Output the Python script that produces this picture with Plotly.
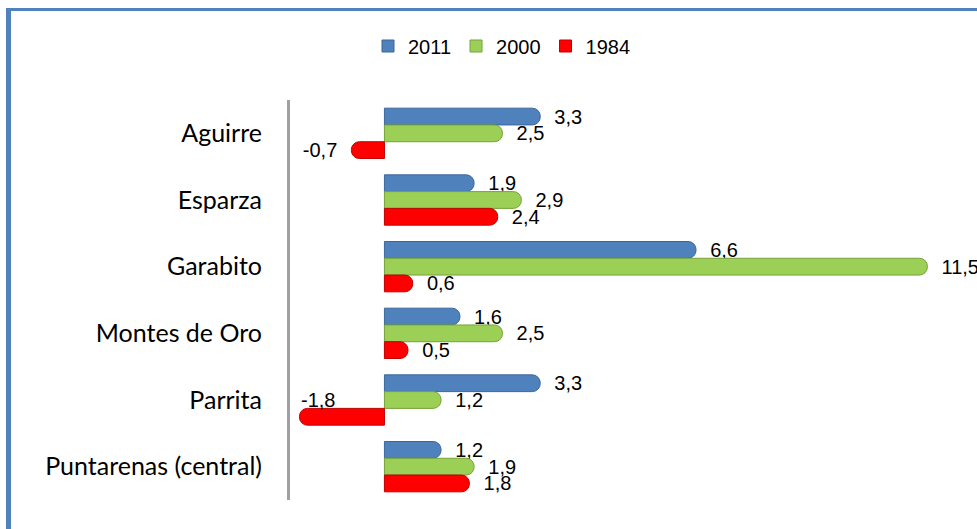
import plotly.graph_objects as go

categories = ["Aguirre", "Esparza", "Garabito", "Montes de Oro", "Parrita", "Puntarenas (central)"]
series_names = ["2011", "2000", "1984"]
values_2011 = [3.3, 1.9, 6.6, 1.6, 3.3, 1.2]
values_2000 = [2.5, 2.9, 11.5, 2.5, 1.2, 1.9]
values_1984 = [-0.7, 2.4, 0.6, 0.5, -1.8, 1.8]

series_values = [values_2011, values_2000, values_1984]
fill_colors = ["#4F81BD", "#9BCF55", "#FF0000"]
line_colors = ["#3B679C", "#76A23A", "#C00000"]

X_MIN, X_MAX = -2.0, 12.55
NB = "\u00a0\u00a0"
LABEL_FONT = dict(family="Liberation Sans, Arial", size=20, color="#000000")


def fmt(v):
    return f"{v:.1f}".replace(".", ",")


def label(v):
    if v >= 0:
        return NB + fmt(v)
    if v < X_MIN * 0.75:
        return ""  # no room left of the bar: label placed above it instead
    return fmt(v) + NB


fig = go.Figure()
annotations = []
for name, vals, fc, lc in zip(series_names, series_values, fill_colors, line_colors):
    fig.add_trace(go.Bar(
        name=name,
        y=categories,
        x=vals,
        orientation="h",
        marker=dict(color=fc, line=dict(color=lc, width=1), cornerradius=8),
        text=[label(v) for v in vals],
        textposition="outside",
        constraintext="none",
        cliponaxis=False,
        textfont=LABEL_FONT,
        hoverinfo="x+y+name",
        showlegend=False,
    ))
    # square legend key
    fig.add_trace(go.Scatter(
        name=name, x=[None], y=[None], mode="markers",
        marker=dict(symbol="square", size=12, color=fc, line=dict(color=lc, width=1)),
        showlegend=True, hoverinfo="skip",
    ))
    for cat, v in zip(categories, vals):
        if v < 0 and label(v) == "":
            annotations.append(dict(
                x=v, y=cat, xref="x", yref="y", text=fmt(v),
                showarrow=False, xanchor="left", yanchor="middle",
                font=LABEL_FONT,
            ))

W, H = 977, 529
ML, MR, MT, MB = 290, 0, 100, 29
pw, ph = W - ML - MR, H - MT - MB


def px_to_paper_x(px):
    return (px - ML) / pw


def px_to_paper_y(py):
    return (H - MB - py) / ph


border = "#4F81BD"
shapes = [
    dict(type="line", xref="paper", yref="paper",
         x0=px_to_paper_x(8.5), x1=px_to_paper_x(8.5),
         y0=px_to_paper_y(8), y1=px_to_paper_y(560),
         line=dict(color=border, width=5)),
    dict(type="line", xref="paper", yref="paper",
         x0=px_to_paper_x(6), x1=px_to_paper_x(1000),
         y0=px_to_paper_y(9.5), y1=px_to_paper_y(9.5),
         line=dict(color=border, width=3)),
]

fig.update_layout(
    width=W, height=H,
    margin=dict(l=ML, r=MR, t=MT, b=MB, autoexpand=False),
    paper_bgcolor="white",
    plot_bgcolor="white",
    barmode="group",
    bargap=0.245,
    bargroupgap=0,
    showlegend=True,
    legend=dict(
        orientation="h",
        xref="container", yref="container",
        x=502 / W, y=1 - 46 / H,
        xanchor="center", yanchor="middle",
        font=dict(family="Liberation Sans, Arial", size=20, color="#000000"),
        traceorder="normal",
        itemwidth=30,
    ),
    xaxis=dict(
        range=[X_MIN, X_MAX],
        visible=False,
        showgrid=False,
        zeroline=False,
    ),
    yaxis=dict(
        autorange="reversed",
        automargin=False,
        showline=True,
        linecolor="#A0A0A0",
        linewidth=3,
        ticks="",
        ticklabelstandoff=20,
        tickfont=dict(family="Lato, Open Sans, sans-serif", size=25, color="#000000"),
        showgrid=False,
    ),
    shapes=shapes,
    annotations=annotations,
)

fig.write_html(
    "out.html",
    config={"displayModeBar": False},
    post_script="document.body.style.margin='0';document.body.style.overflow='hidden';",
)
